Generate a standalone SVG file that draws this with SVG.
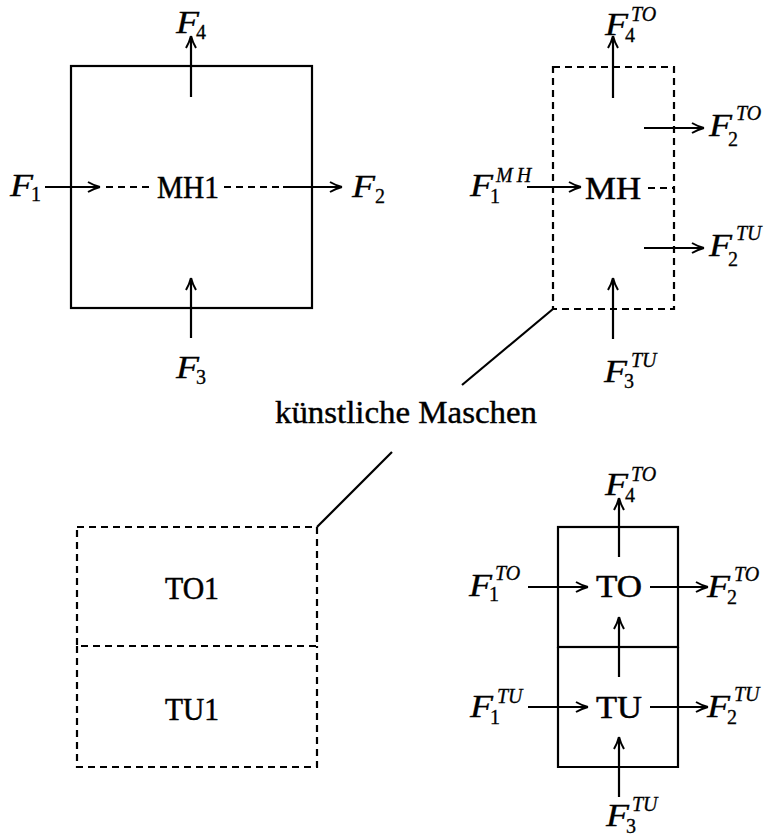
<svg xmlns="http://www.w3.org/2000/svg" width="771" height="838" viewBox="0 0 771 838">
<style>
.bg{fill:#ffffff}
.box{fill:none;stroke:#000;stroke-width:2.2}
.dbox{fill:none;stroke:#000;stroke-width:2.2;stroke-dasharray:7 5}
.ln{fill:none;stroke:#000;stroke-width:2.2}
.dln{fill:none;stroke:#000;stroke-width:2.2;stroke-dasharray:7 5}
.arr{fill:none;stroke:#000;stroke-width:2.2;marker-end:url(#ah)}
.lbl{font-family:"Liberation Serif","Times New Roman",serif;font-size:31px;fill:#000;stroke:#000;stroke-width:0.5;text-anchor:middle}
.F{font-family:"Liberation Serif","Times New Roman",serif;font-style:italic;font-size:32px;fill:#000;stroke:#000;stroke-width:0.3}
.sup{font-family:"Liberation Serif","Times New Roman",serif;font-style:italic;font-size:20px;fill:#000;stroke:#000;stroke-width:0.3}
.sub{font-family:"Liberation Serif","Times New Roman",serif;font-size:20px;fill:#000;stroke:#000;stroke-width:0.3}
.cap{font-family:"Liberation Serif","Times New Roman",serif;font-size:31px;fill:#000;stroke:#000;stroke-width:0.4;text-anchor:middle}
</style>
<defs>
<marker id="ah" viewBox="-14 -7 16 14" refX="0" refY="0" markerWidth="16" markerHeight="14" markerUnits="userSpaceOnUse" orient="auto">
<path d="M0,0 Q-6,-1.5 -12,-5 M0,0 Q-6,1.5 -12,5" fill="none" stroke="#000" stroke-width="2"/>
</marker>
</defs>
<rect class="bg" x="0" y="0" width="771" height="838"/>

<!-- Top-left: MH1 -->
<g id="MH1">
<rect class="box" x="71" y="66" width="241" height="242"/>
<text class="lbl" x="188" y="198" textLength="62" lengthAdjust="spacingAndGlyphs">MH1</text>
</g>

<!-- Top-right: MH (artificial mesh) -->
<g id="MH">
<rect class="dbox" x="553" y="67" width="121" height="242"/>
<text class="lbl" x="613" y="199" textLength="56" lengthAdjust="spacingAndGlyphs">MH</text>
</g>

<!-- Bottom-left: TO1 / TU1 -->
<g id="TO1">
<rect class="dbox" x="77" y="527" width="240" height="119"/>
<text class="lbl" x="192" y="599" textLength="54" lengthAdjust="spacingAndGlyphs">TO1</text>
</g>
<g id="TU1">
<path class="dln" d="M77,646 L77,767 L317,767 L317,646"/>
<text class="lbl" x="192" y="720" textLength="54" lengthAdjust="spacingAndGlyphs">TU1</text>
</g>

<!-- Bottom-right: TO / TU -->
<g id="TO">
<rect class="box" x="558" y="527" width="120" height="120"/>
<text class="lbl" x="619" y="597" textLength="46" lengthAdjust="spacingAndGlyphs">TO</text>
</g>
<g id="TU">
<path class="box" d="M558,647 L558,767 L678,767 L678,647"/>
<text class="lbl" x="619" y="718" textLength="46" lengthAdjust="spacingAndGlyphs">TU</text>
</g>

<!-- Caption -->
<g id="caption">
<text class="cap" x="406" y="423" textLength="262" lengthAdjust="spacingAndGlyphs">künstliche Maschen</text>
</g>

<!-- Connectors -->
<g id="connectors">
<!-- MH1 -->
<line class="arr" x1="45" y1="187" x2="100" y2="187"/>
<line class="dln" x1="106" y1="187" x2="154" y2="187"/>
<line class="dln" x1="224" y1="187" x2="283" y2="187"/>
<line class="arr" x1="283" y1="187" x2="342" y2="187"/>
<line class="arr" x1="191" y1="97" x2="191" y2="36"/>
<line class="arr" x1="191" y1="338" x2="191" y2="278"/>
<!-- MH -->
<line class="arr" x1="527" y1="187" x2="581" y2="187"/>
<line class="dln" x1="648" y1="188" x2="674" y2="188"/>
<line class="arr" x1="613" y1="98" x2="613" y2="36"/>
<line class="arr" x1="644" y1="128" x2="704" y2="128"/>
<line class="arr" x1="644" y1="248" x2="704" y2="248"/>
<line class="arr" x1="613" y1="339" x2="613" y2="278"/>
<!-- pointer lines -->
<line class="ln" x1="553" y1="309" x2="462" y2="385"/>
<line class="ln" x1="392" y1="452" x2="317" y2="527"/>
<!-- TO / TU -->
<line class="arr" x1="619" y1="557" x2="619" y2="498"/>
<line class="arr" x1="528" y1="587" x2="588" y2="587"/>
<line class="arr" x1="650" y1="587" x2="708" y2="587"/>
<line class="arr" x1="619" y1="677" x2="619" y2="617"/>
<line class="arr" x1="528" y1="707" x2="588" y2="707"/>
<line class="arr" x1="650" y1="707" x2="708" y2="707"/>
<line class="arr" x1="619" y1="797" x2="619" y2="737"/>
</g>

<!-- Flow labels -->
<g id="labels">
<text class="F" x="10" y="196" textLength="23" lengthAdjust="spacingAndGlyphs">F</text><text class="sub" x="31" y="201">1</text>
<text class="F" x="352" y="197" textLength="23" lengthAdjust="spacingAndGlyphs">F</text><text class="sub" x="375" y="203">2</text>
<text class="F" x="176" y="33" textLength="23" lengthAdjust="spacingAndGlyphs">F</text><text class="sub" x="196" y="39">4</text>
<text class="F" x="176" y="378" textLength="23" lengthAdjust="spacingAndGlyphs">F</text><text class="sub" x="196" y="384">3</text>

<text class="F" x="605" y="35" textLength="23" lengthAdjust="spacingAndGlyphs">F</text><text class="sup" x="631" y="21">TO</text><text class="sub" x="625" y="42">4</text>
<text class="F" x="709" y="136" textLength="23" lengthAdjust="spacingAndGlyphs">F</text><text class="sup" x="736" y="120">TO</text><text class="sub" x="728" y="146">2</text>
<text class="F" x="470" y="196" textLength="23" lengthAdjust="spacingAndGlyphs">F</text><text class="sup" x="496" y="182" letter-spacing="4">MH</text><text class="sub" x="490" y="203">1</text>
<text class="F" x="709" y="256" textLength="23" lengthAdjust="spacingAndGlyphs">F</text><text class="sup" x="736" y="240">TU</text><text class="sub" x="728" y="266">2</text>
<text class="F" x="604" y="382" textLength="23" lengthAdjust="spacingAndGlyphs">F</text><text class="sup" x="631" y="367">TU</text><text class="sub" x="624" y="388">3</text>

<text class="F" x="605" y="495" textLength="23" lengthAdjust="spacingAndGlyphs">F</text><text class="sup" x="631" y="481">TO</text><text class="sub" x="625" y="502">4</text>
<text class="F" x="469" y="596" textLength="23" lengthAdjust="spacingAndGlyphs">F</text><text class="sup" x="495" y="580">TO</text><text class="sub" x="489" y="601">1</text>
<text class="F" x="707" y="597" textLength="23" lengthAdjust="spacingAndGlyphs">F</text><text class="sup" x="734" y="581">TO</text><text class="sub" x="727" y="604">2</text>
<text class="F" x="470" y="717" textLength="23" lengthAdjust="spacingAndGlyphs">F</text><text class="sup" x="497" y="703">TU</text><text class="sub" x="490" y="724">1</text>
<text class="F" x="707" y="717" textLength="23" lengthAdjust="spacingAndGlyphs">F</text><text class="sup" x="734" y="701">TU</text><text class="sub" x="727" y="724">2</text>
<text class="F" x="606" y="826" textLength="23" lengthAdjust="spacingAndGlyphs">F</text><text class="sup" x="632" y="811">TU</text><text class="sub" x="626" y="833">3</text>
</g>
</svg>
